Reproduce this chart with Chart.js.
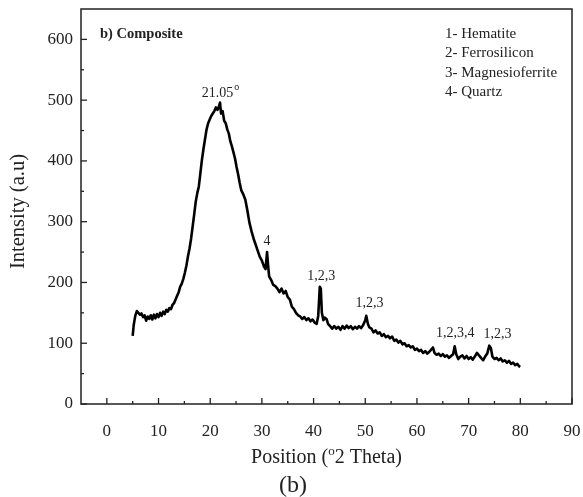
<!DOCTYPE html>
<html>
<head>
<meta charset="utf-8">
<script src="https://cdn.jsdelivr.net/npm/chart.js@4.4.1/dist/chart.umd.min.js"></script>
<style>
  html, body { margin: 0; padding: 0; background: #fff; }
  #wrap { width: 583px; height: 497px; position: relative; }
</style>
</head>
<body>
<div id="wrap"><canvas id="xrd"></canvas></div>
<script>
// 2 theta positions and intensities
const twoTheta = [
  5.0, 5.2, 5.5, 5.8, 6.1, 6.4, 6.7, 7.0, 7.3, 7.6, 7.9, 8.2, 8.5, 8.8, 9.1, 9.4, 9.7, 10.0,
  10.3, 10.6, 10.9, 11.2, 11.5, 11.8, 12.1, 12.4, 12.7, 13.0, 13.3, 13.6, 13.9, 14.2, 14.5, 14.8,
  15.1, 15.4, 15.7, 16.0, 16.3, 16.6, 16.9, 17.2, 17.5, 17.8, 18.1, 18.4, 18.7, 19.0, 19.3, 19.6,
  19.9, 20.2, 20.5, 20.8, 21.1, 21.4, 21.7, 21.9, 22.1, 22.4, 22.7, 23.0, 23.3, 23.6, 23.9, 24.2,
  24.5, 24.8, 25.1, 25.4, 25.7, 26.0, 26.4, 26.8, 27.2, 27.6, 28.0, 28.4, 28.8, 29.2, 29.6, 30.0,
  30.4, 30.7, 31.0, 31.2, 31.4, 31.8, 32.2, 32.6, 33.0, 33.4, 33.8, 34.2, 34.6, 35.0, 35.4, 35.8,
  36.2, 36.6, 37.0, 37.4, 37.8, 38.2, 38.6, 39.0, 39.4, 39.8, 40.2, 40.6, 40.9, 41.2, 41.4, 41.6,
  41.9, 42.2, 42.5, 42.8, 43.2, 43.6, 44.0, 44.4, 44.8, 45.2, 45.6, 46.0, 46.4, 46.8, 47.2, 47.6,
  48.0, 48.4, 48.8, 49.2, 49.6, 50.0, 50.2, 50.5, 50.8, 51.2, 51.6, 52.0, 52.4, 52.8, 53.2, 53.6,
  54.0, 54.4, 54.8, 55.2, 55.6, 56.0, 56.4, 56.8, 57.2, 57.6, 58.0, 58.4, 58.8, 59.2, 59.6, 60.0,
  60.4, 60.8, 61.2, 61.6, 62.0, 62.4, 62.8, 63.1, 63.4, 63.8, 64.2, 64.6, 65.0, 65.4, 65.8, 66.2,
  66.6, 67.0, 67.3, 67.6, 68.0, 68.4, 68.8, 69.2, 69.6, 70.0, 70.4, 70.8, 71.2, 71.6, 72.0, 72.4,
  72.8, 73.2, 73.6, 74.0, 74.3, 74.6, 75.0, 75.4, 75.8, 76.2, 76.6, 77.0, 77.4, 77.8, 78.2, 78.6,
  79.0, 79.4, 79.8, 80.0
];
const intensity = [
  112, 130, 145, 153, 150, 147, 149, 143, 146, 137, 144, 140, 146, 139, 147, 141, 148, 143,
  150, 145, 152, 148, 155, 152, 158, 156, 163, 166, 172, 178, 184, 193, 198, 206,
  216, 228, 243, 256, 272, 292, 312, 333, 347, 358, 380, 402, 420, 436, 452, 462,
  468, 474, 478, 482, 488, 484, 490, 496, 478, 482, 466, 462, 452, 445, 432, 424,
  414, 404, 390, 378, 364, 352, 345, 336, 318, 298, 284, 272, 262, 252, 242, 236,
  226, 222, 250, 228, 210, 204, 196, 194, 190, 184, 190, 182, 186, 176, 172, 160,
  156, 150, 146, 144, 140, 143, 138, 141, 136, 139, 134, 132, 145, 193, 190, 150,
  138, 142, 140, 132, 128, 124, 128, 124, 127, 122, 128, 124, 129, 125, 128, 123,
  127, 124, 128, 125, 130, 138, 145, 132, 126, 124, 118, 121, 116, 118, 112, 115,
  110, 112, 108, 111, 104, 106, 101, 104, 98, 100, 95, 97, 93, 95, 89, 91,
  87, 89, 84, 87, 83, 86, 90, 93, 84, 81, 83, 79, 82, 78, 80, 76,
  79, 82, 95, 82, 74, 78, 80, 75, 79, 74, 77, 73, 78, 84, 80, 76,
  72, 78, 83, 96, 92, 78, 74, 76, 72, 75, 70, 72, 68, 71, 66, 68,
  64, 66, 62, 61
];

const xTicks = [0, 10, 20, 30, 40, 50, 60, 70, 80, 90];
const xMinorTicks = [5, 15, 25, 35, 45, 55, 65, 75, 85];
const yTicks = [0, 100, 200, 300, 400, 500, 600];
const yMinorTicks = [50, 150, 250, 350, 450, 550];

// peak labels, placed in data units
const peakLabels = ['21.05', '4', '1,2,3', '1,2,3', '1,2,3,4', '1,2,3'];
const peakLabelX = [21.4, 31.0, 41.5, 50.8, 67.4, 75.6];
const peakLabelY = [512, 268, 210, 166, 117, 114];

const phases = ['1- Hematite', '2- Ferrosilicon', '3- Magnesioferrite', '4- Quartz'];

const SERIF = '"Liberation Serif", "DejaVu Serif", serif';
const INK = '#222';

const points = twoTheta.map((t, i) => ({ x: t, y: intensity[i] }));

// frame, inward ticks and all the extra text
const overlay = {
  id: 'overlay',
  afterDraw(chart) {
    const { ctx, chartArea: a, scales: { x, y } } = chart;
    ctx.save();
    ctx.strokeStyle = INK;
    ctx.lineWidth = 1.5;
    ctx.strokeRect(a.left, a.top, a.right - a.left, a.bottom - a.top);

    const seg = (x1, y1, x2, y2) => { ctx.beginPath(); ctx.moveTo(x1, y1); ctx.lineTo(x2, y2); ctx.stroke(); };
    ctx.lineWidth = 1.3;
    xTicks.forEach(v => { const p = x.getPixelForValue(v); seg(p, a.bottom, p, a.bottom - 6); });
    xMinorTicks.forEach(v => { const p = x.getPixelForValue(v); seg(p, a.bottom, p, a.bottom - 3); });
    yTicks.forEach(v => { const p = y.getPixelForValue(v); seg(a.left, p, a.left + 6, p); });
    yMinorTicks.forEach(v => { const p = y.getPixelForValue(v); seg(a.left, p, a.left + 3, p); });

    ctx.fillStyle = INK;
    ctx.textBaseline = 'middle';

    // peak labels
    ctx.font = '14px ' + SERIF;
    ctx.textAlign = 'center';
    peakLabels.forEach((txt, i) => {
      const px = x.getPixelForValue(peakLabelX[i]);
      const py = y.getPixelForValue(peakLabelY[i]);
      ctx.fillText(txt, px, py);
      if (i === 0) {
        const w = ctx.measureText(txt).width;
        ctx.font = '10px ' + SERIF;
        ctx.textAlign = 'left';
        ctx.fillText('o', px + w / 2 + 1, py - 5);
        ctx.font = '14px ' + SERIF;
        ctx.textAlign = 'center';
      }
    });

    // panel tag
    ctx.textAlign = 'left';
    ctx.font = 'bold 14.5px ' + SERIF;
    ctx.fillText('b) Composite', a.left + 19, a.top + 25);

    // phase key
    ctx.font = '15px ' + SERIF;
    phases.forEach((p, i) => ctx.fillText(p, 445, a.top + 25 + i * 19.5));

    // axis titles
    ctx.font = '20.5px ' + SERIF;
    ctx.textAlign = 'center';
    ctx.save();
    ctx.translate(19, (a.top + a.bottom) / 2 + 5);
    ctx.rotate(-Math.PI / 2);
    ctx.fillText('Intensity (a.u)', 0, 0);
    ctx.restore();

    const cx = (a.left + a.right) / 2;
    const t1 = 'Position (', t2 = '2 Theta)';
    ctx.font = '20px ' + SERIF;
    const w1 = ctx.measureText(t1).width, w2 = ctx.measureText(t2).width;
    ctx.font = '13px ' + SERIF;
    const wo = ctx.measureText('o').width;
    const start = cx - (w1 + wo + w2) / 2;
    ctx.textAlign = 'left';
    ctx.font = '20px ' + SERIF;
    ctx.fillText(t1, start, 458);
    ctx.font = '13px ' + SERIF;
    ctx.fillText('o', start + w1, 452);
    ctx.font = '20px ' + SERIF;
    ctx.fillText(t2, start + w1 + wo, 458);

    ctx.font = '24px ' + SERIF;
    ctx.textAlign = 'center';
    ctx.fillText('(b)', 293, 486);
    ctx.restore();
  }
};

new Chart(document.getElementById('xrd'), {
  type: 'line',
  data: {
    datasets: [{
      data: points,
      borderColor: '#000',
      borderWidth: 2.6,
      borderJoinStyle: 'round',
      pointRadius: 0,
      tension: 0,
      fill: false
    }]
  },
  options: {
    responsive: true,
    maintainAspectRatio: false,
    animation: false,
    layout: { padding: { left: 0, right: 11, top: 9, bottom: 0 } },
    plugins: { legend: { display: false }, tooltip: { enabled: false } },
    scales: {
      x: {
        type: 'linear',
        min: -5,
        max: 90,
        afterBuildTicks: s => { s.ticks = xTicks.map(v => ({ value: v })); },
        afterFit: s => { s.height = 93; s.paddingLeft = 0; s.paddingRight = 0; },
        grid: { display: false, drawTicks: false },
        border: { display: false },
        ticks: { color: INK, padding: 17, maxRotation: 0, font: { family: SERIF, size: 17 } }
      },
      y: {
        min: 0,
        max: 650,
        afterBuildTicks: s => { s.ticks = yTicks.map(v => ({ value: v })); },
        afterFit: s => { s.width = 81; s.paddingTop = 0; s.paddingBottom = 0; },
        grid: { display: false, drawTicks: false },
        border: { display: false },
        ticks: { color: INK, padding: 8, font: { family: SERIF, size: 17 } }
      }
    }
  },
  plugins: [overlay]
});
</script>
</body>
</html>
